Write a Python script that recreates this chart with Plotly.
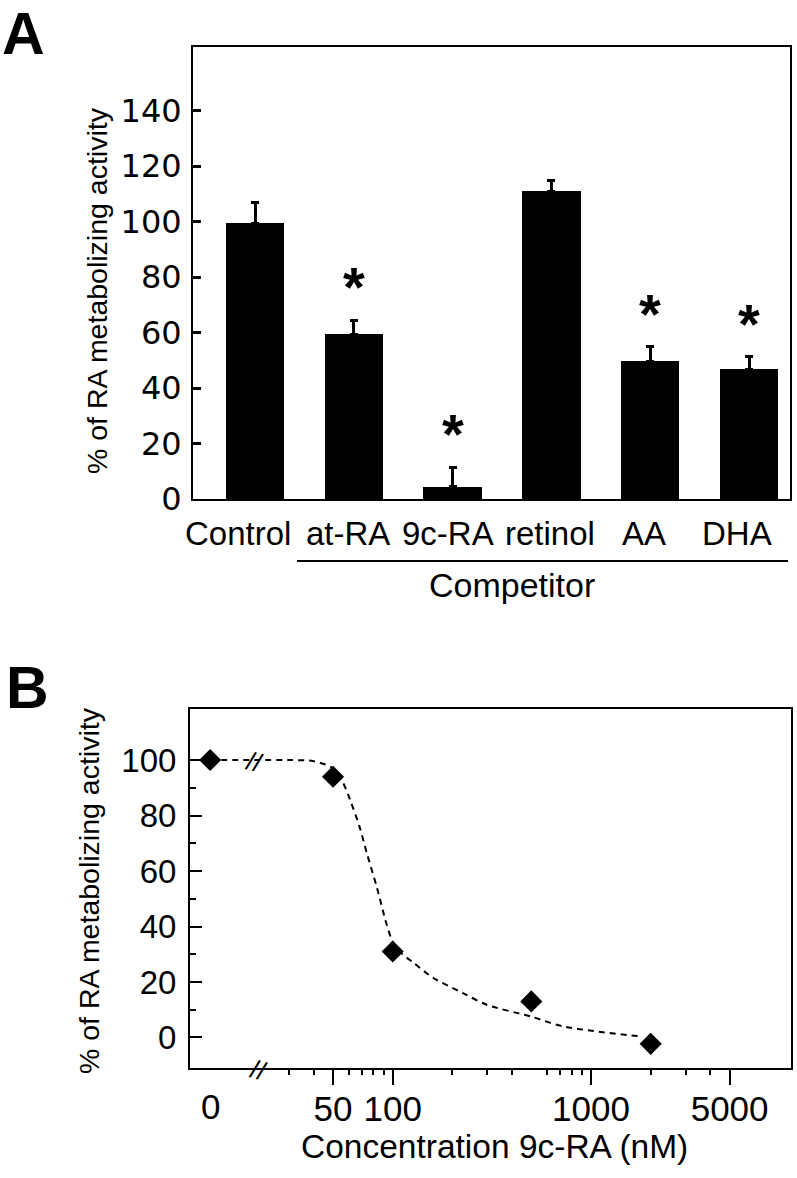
import numpy as np
import plotly.graph_objects as go

# Panel A: competition assay
CATEGORIES = ["Control", "at-RA", "9c-RA", "retinol", "AA", "DHA"]
ACTIVITY = [99.5, 59.5, 4.5, 111, 49.7, 46.8]
ACTIVITY_ERR = [7.5, 5, 7, 4, 5.2, 4.5]
SIGNIFICANT = [False, True, True, False, True, True]
Y_TICKS_A = [0, 20, 40, 60, 80, 100, 120, 140]

# Panel B: dose response of 9c-RA
CONC_NM = [0, 50, 100, 500, 2000]
CONC_PCT = [100, 94, 31, 13, -2.3]
FIT_NM = [0, 30, 40, 50, 56, 61, 68, 74, 83, 93, 100, 110, 127, 160, 226, 298, 500, 723, 1766]
FIT_PCT = [100, 100, 99.6, 97, 92, 85.6, 76, 66.5, 54.4, 41, 34.5, 30.5, 27, 21.5, 16, 11.8, 7.5, 4, 0.4]
X_TICKS_B = [50, 100, 1000, 5000]
X_TICKTEXT_B = ["50", "100", "1000", "5000"]
X_MINOR_B = [30, 40, 60, 70, 80, 90, 200, 300, 400, 600, 700, 800, 900, 2000, 3000, 4000]
Y_TICKS_B = [0, 20, 40, 60, 80, 100]
Y_MINOR_B = [10, 30, 50, 70, 90]

ZERO_POS = 12    # where the "0" concentration sits on the log axis
BREAK_POS = 21   # axis break marks

FONT = "Arial, Liberation Sans, sans-serif"
WIDE_FONT = "DejaVu Sans, sans-serif"
W, H = 797, 1178

def px_x(p):
    return p / W

def px_y(p):
    return 1 - p / H

conc_pos = [ZERO_POS if c == 0 else c for c in CONC_NM]
fit_pos = [ZERO_POS if c == 0 else c for c in FIT_NM]

fig = go.Figure()

fig.add_trace(go.Bar(
    x=CATEGORIES, y=ACTIVITY, width=0.59,
    marker=dict(color="black", line=dict(width=0)),
    error_y=dict(type="data", array=ACTIVITY_ERR, arrayminus=[0] * len(ACTIVITY),
                 symmetric=False, color="black", thickness=3, width=4),
    xaxis="x", yaxis="y", showlegend=False,
))

fig.add_trace(go.Scatter(
    x=fit_pos, y=FIT_PCT, mode="lines",
    line=dict(color="black", width=2, dash="6px,5px", shape="spline", smoothing=0.8),
    xaxis="x2", yaxis="y2", showlegend=False,
))
fig.add_trace(go.Scatter(
    x=conc_pos, y=CONC_PCT, mode="markers",
    marker=dict(symbol="diamond", size=17, color="black"),
    xaxis="x2", yaxis="y2", showlegend=False,
))

annotations = []
# asterisks over significant bars
for cat, v, e, s in zip(CATEGORIES, ACTIVITY, ACTIVITY_ERR, SIGNIFICANT):
    if s:
        annotations.append(dict(x=cat, y=v + e, xref="x", yref="y", text="<b>*</b>",
                                showarrow=False, xanchor="center", yanchor="bottom", yshift=0,
                                font=dict(family=FONT, size=56, color="black")))

# category labels (the original sets them a little left of the bar centres)
label_nudge = [-17, -6, -5, -1, -6, -12]
for cat, dx in zip(CATEGORIES, label_nudge):
    annotations.append(dict(x=cat, y=px_y(533), xref="x", yref="paper", text=cat,
                            showarrow=False, xanchor="center", yanchor="middle", xshift=dx,
                            font=dict(family=FONT, size=33, color="black")))

# competitor bracket label
annotations.append(dict(x=px_x(512), y=px_y(585), xref="paper", yref="paper",
                        text="Competitor", showarrow=False, xanchor="center", yanchor="middle",
                        font=dict(family=FONT, size=34, color="black")))

# axis titles
annotations.append(dict(x=px_x(97), y=px_y(291), xref="paper", yref="paper",
                        text="% of RA metabolizing activity", textangle=-90, showarrow=False,
                        xanchor="center", yanchor="middle",
                        font=dict(family=FONT, size=28.5, color="black")))
annotations.append(dict(x=px_x(89), y=px_y(891), xref="paper", yref="paper",
                        text="% of RA metabolizing activity", textangle=-90, showarrow=False,
                        xanchor="center", yanchor="middle",
                        font=dict(family=FONT, size=28.5, color="black")))
annotations.append(dict(x=px_x(494), y=px_y(1146), xref="paper", yref="paper",
                        text="Concentration 9c-RA (nM)", showarrow=False,
                        xanchor="center", yanchor="middle",
                        font=dict(family=FONT, size=33.5, color="black")))

# "0" tick label on the broken axis
annotations.append(dict(x=np.log10(ZERO_POS), y=px_y(1106), xref="x2", yref="paper",
                        text="0", showarrow=False, xanchor="center", yanchor="middle",
                        font=dict(family=FONT, size=35, color="black")))

# break marks
annotations.append(dict(x=np.log10(BREAK_POS), y=0, xref="x2", yref="y2 domain",
                        text="//", textangle=16, showarrow=False,
                        xanchor="center", yanchor="middle", yshift=-2,
                        font=dict(family=FONT, size=26, color="black")))
annotations.append(dict(x=np.log10(BREAK_POS) - 0.02, y=100, xref="x2", yref="y2",
                        text="//", textangle=16, showarrow=False,
                        xanchor="center", yanchor="middle", yshift=-2,
                        font=dict(family=FONT, size=26, color="black")))

# panel letters
annotations.append(dict(x=px_x(1), y=px_y(0), xref="paper", yref="paper",
                        text="<b>A</b>", showarrow=False, xanchor="left", yanchor="top",
                        borderpad=0,
                        font=dict(family=FONT, size=59, color="black")))
annotations.append(dict(x=px_x(4), y=px_y(653), xref="paper", yref="paper",
                        text="<b>B</b>", showarrow=False, xanchor="left", yanchor="top",
                        font=dict(family=FONT, size=59, color="black")))

shapes = [dict(type="line", xref="x", yref="paper", x0=1 - 0.575, x1=5 + 0.395,
               y0=px_y(561), y1=px_y(561), line=dict(color="black", width=2))]

fig.update_layout(
    width=W, height=H,
    margin=dict(l=0, r=0, t=0, b=0, autoexpand=False),
    paper_bgcolor="white", plot_bgcolor="white",
    font=dict(family=FONT, color="black"),
    bargap=0,
    annotations=annotations,
    shapes=shapes,
    xaxis=dict(domain=[px_x(193), px_x(790)], range=[-0.628, 5.415], anchor="y",
               automargin=False, showticklabels=False,
               showline=True, linecolor="black", linewidth=2, mirror=True,
               ticks="", showgrid=False, zeroline=False),
    yaxis=dict(domain=[px_y(499), px_y(47)], range=[0, 163], anchor="x",
               automargin=False,
               tickvals=Y_TICKS_A, ticks="inside", ticklen=8, tickwidth=3, tickcolor="black",
               ticklabelstandoff=3,
               showline=True, linecolor="black", linewidth=2, mirror=True,
               showgrid=False, zeroline=False,
               tickfont=dict(family=WIDE_FONT, size=32, color="black")),
    xaxis2=dict(type="log", domain=[px_x(190), px_x(791)],
                range=[np.log10(9.5), np.log10(10200)], anchor="y2",
                automargin=False,
                tickvals=X_TICKS_B, ticktext=X_TICKTEXT_B,
                ticks="outside", ticklen=15, tickwidth=2, tickcolor="black",
                ticklabelstandoff=-6,
                minor=dict(tickvals=X_MINOR_B, ticks="outside", ticklen=5, tickwidth=2,
                           tickcolor="black", showgrid=False),
                showline=True, linecolor="black", linewidth=2, mirror=True,
                showgrid=False, zeroline=False,
                tickfont=dict(family=FONT, size=35, color="black")),
    yaxis2=dict(domain=[px_y(1068), px_y(709)], range=[-11, 118.4], anchor="x2",
                automargin=False,
                tickvals=Y_TICKS_B, ticks="inside", ticklen=12, tickwidth=2, tickcolor="black",
                ticklabelstandoff=5,
                minor=dict(tickvals=Y_MINOR_B, ticks="inside", ticklen=6, tickwidth=2,
                           tickcolor="black", showgrid=False),
                showline=True, linecolor="black", linewidth=2, mirror=True,
                showgrid=False, zeroline=False,
                tickfont=dict(family=FONT, size=33, color="black")),
)

# the page body has a default 8px margin; drop it so the figure fills the window
fig.write_html("out.html", config={"displayModeBar": False},
               post_script="document.body.style.margin='0';")
